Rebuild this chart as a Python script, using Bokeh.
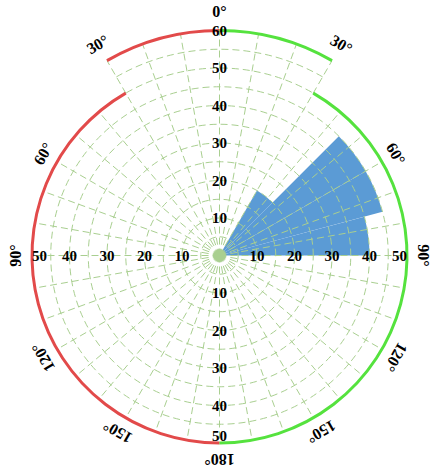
import numpy as np
from bokeh.plotting import figure
from bokeh.embed import file_html
from bokeh.resources import INLINE
from bokeh.core.properties import value

# ---- data ----
bin_start = [30, 45, 60, 75]          # compass degrees (clockwise from top)
bin_width = [15, 15, 15, 15]
bin_values = [20, 45, 45, 40]

top_ticks = [10, 20, 30, 40, 50, 60]
side_ticks = [10, 20, 30, 40, 50]
angle_ticks = [0, 30, 60, 90, 120, 150, 180, 210, 240, 270, 300, 330]
angle_labels = ["0°", "30°", "60°", "90°", "120°", "150°", "180°",
                "150°", "120°", "90°", "60°", "30°"]

R_MAIN = 50
R_TOP = 60
TOP_HALF = 30  # top sector spans -30..30 deg

# ---- styles ----
GRID = "#a9cf90"
BLUE = "#5b9bd5"
RED = "#e24a4a"
GREEN = "#55e23e"
FONT = value("Liberation Serif")

scale = 3.75  # px per unit
W, H = 437, 473
cx, cy = 219, 255  # center in figure px (from left, from top)

p = figure(width=W, height=H, output_backend="svg", toolbar_location=None,
           x_range=(-cx / scale, (W - cx) / scale),
           y_range=(-(H - cy) / scale, cy / scale),
           min_border=0)
p.axis.visible = False
p.grid.visible = False
p.outline_line_color = None
p.background_fill_color = "white"


def to_math(theta_deg):
    return np.deg2rad(90 - np.asarray(theta_deg, dtype=float))


# wedges
bs = np.array(bin_start, dtype=float)
bw = np.array(bin_width, dtype=float)
p.wedge(x=0, y=0, radius=bin_values,
        start_angle=to_math(bs + bw), end_angle=to_math(bs),
        direction="anticlock", fill_color=BLUE, line_color=None)

# grid circles
circ = list(range(5, R_MAIN + 1, 5))
p.arc(x=0, y=0, radius=circ, start_angle=0, end_angle=2 * np.pi,
      line_color=GRID, line_width=1, line_dash="7 4")
top_circ = list(range(R_MAIN + 5, R_TOP, 5))
p.arc(x=0, y=0, radius=top_circ, start_angle=to_math(TOP_HALF),
      end_angle=to_math(-TOP_HALF), direction="anticlock",
      line_color=GRID, line_width=1, line_dash="7 4")

# radial grid lines every 10 deg
th = np.arange(0, 360, 10)
rr = np.where((th <= TOP_HALF) | (th >= 360 - TOP_HALF), R_TOP, R_MAIN)
p.segment(x0=0, y0=0, x1=rr * np.sin(np.deg2rad(th)), y1=rr * np.cos(np.deg2rad(th)),
          line_color=GRID, line_width=1, line_dash="7 4")

# outer boundary arcs
p.arc(x=0, y=0, radius=R_MAIN, start_angle=to_math(180), end_angle=to_math(360 - TOP_HALF),
      direction="clock", line_color=RED, line_width=3)
p.arc(x=0, y=0, radius=R_TOP, start_angle=to_math(360 - TOP_HALF), end_angle=to_math(360),
      direction="clock", line_color=RED, line_width=3)
p.arc(x=0, y=0, radius=R_TOP, start_angle=to_math(0), end_angle=to_math(TOP_HALF),
      direction="clock", line_color=GREEN, line_width=3)
p.arc(x=0, y=0, radius=R_MAIN, start_angle=to_math(TOP_HALF), end_angle=to_math(180),
      direction="clock", line_color=GREEN, line_width=3)

# center dot
p.scatter(x=[0], y=[0], size=12, fill_color=GRID, line_color=None)

# radial labels
tx, ty, tt = [], [], []
for v in top_ticks:
    tx.append(0); ty.append(v); tt.append(str(v))
for v in side_ticks:
    rpos = v if v < R_MAIN else v - 2
    tx += [rpos, 0, -rpos]
    ty += [0, -rpos, 0]
    tt += [str(v)] * 3
p.text(x=tx, y=ty, text=tt, text_font=FONT, text_font_style="bold",
       text_font_size="15px", text_align="center", text_baseline="middle",
       text_color="black")

# angle labels
at = np.array(angle_ticks, dtype=float)
lr = np.where((at <= TOP_HALF) | (at >= 360 - TOP_HALF), R_TOP + 5, R_MAIN + 4.3)
p.text(x=lr * np.sin(np.deg2rad(at)), y=lr * np.cos(np.deg2rad(at)), text=angle_labels,
       angle=-np.deg2rad(at), text_font=FONT, text_font_style="bold",
       text_font_size="16px", text_align="center", text_baseline="middle",
       text_color="black")

open("out.html", "w").write(file_html(p, INLINE))
